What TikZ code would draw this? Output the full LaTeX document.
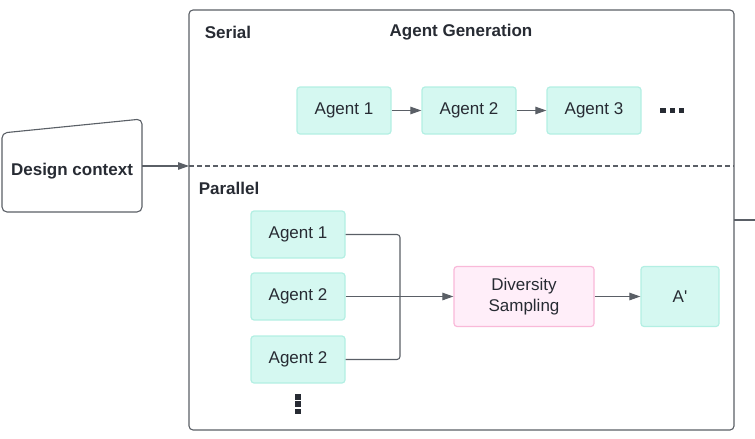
\documentclass[tikz,border=0pt]{standalone}
\usepackage{fontspec}
\setmainfont{Liberation Sans}
\usetikzlibrary{arrows.meta}
\definecolor{ink}{HTML}{272B33}
\definecolor{wire}{HTML}{5A5F66}
\definecolor{tealfill}{HTML}{D5F8F1}
\definecolor{tealline}{HTML}{B3EFE3}
\definecolor{pinkfill}{HTML}{FFEEF9}
\definecolor{pinkline}{HTML}{F9B9D9}
\begin{document}
\begin{tikzpicture}[x=1pt,y=-1pt,>={Triangle[length=11pt,width=7.5pt]},line join=round,
	font=\fontsize{17}{21}\selectfont,text=ink,
	agent/.style={draw=tealline,fill=tealfill,line width=1.2pt,rounded corners=3pt,
		minimum width=94pt,minimum height=47pt,inner sep=0pt},
	pinkbox/.style={draw=pinkline,fill=pinkfill,line width=1.2pt,rounded corners=3pt,
		minimum width=140pt,minimum height=60pt,inner sep=0pt,align=center},
	lbl/.style={font=\bfseries\fontsize{17}{21}\selectfont},
	wireline/.style={draw=wire,line width=1.1pt}]
	\useasboundingbox (0,0) rectangle (755,439);
	\path (189,166) coordinate (S1)
	(734,166) coordinate (S2)
	(142,166) coordinate (DC)
	(400,296.5) coordinate (J)
	(734,220) coordinate (R1)
	(755,220) coordinate (R2)
	;
	% outer frame
	\node[wireline,rounded corners=4pt,minimum width=545pt,minimum height=420pt,inner sep=0pt] (F) at (461.5,220) {};
	\draw[wireline,dash pattern=on 5pt off 3pt] (S1)--(S2);
	\draw[wireline] (R1)--(R2);
	% design context
	\draw[wireline,rounded corners=5pt] (2,133)--(142,119)--(142,212)--(2,212)--cycle;
	\node[lbl] (D) at (72,171.5) {Design context};
	\draw[wireline,->] (DC)--(S1);
	\node[lbl] (ser) at (228,32) {Serial};
	\node[lbl] (gen) at (461,32) {Agent Generation};
	\node[lbl] (par) at (229,188) {Parallel};
	% serial row
	\foreach \n/\x in {1/344,2/469,3/594}
	\node[agent] (s\n) at (\x,110.5) {Agent \n};
	\draw[wireline,->] (s1)--(s2);
	\draw[wireline,->] (s2)--(s3);
	\foreach \x in {663,672.5,681.5}
	\fill[ink] (\x-2.8,107.5) rectangle (\x+2.8,112.8);
	% parallel
	\foreach \n/\t/\y in {1/1/234.5,2/2/296.5,3/2/359.5}
	\node[agent] (p\n) at (298,\y) {Agent \t};
	\foreach \y in {397,404,411.5}
	\fill[ink] (295.2,\y-2.6) rectangle (300.8,\y+2.6);
	\node[pinkbox] (DS) at (524,296.5) {Diversity\\Sampling};
	\node[agent,minimum width=78pt,minimum height=60pt] (A) at (680,296.5) {A\textquotesingle};
	\draw[wireline,rounded corners=3pt] (p1)-|(J);
	\draw[wireline,rounded corners=3pt] (p3)-|(J);
	\draw[wireline,->] (p2)--(DS);
	\draw[wireline,->] (DS)--(A);
\end{tikzpicture}
\end{document}
